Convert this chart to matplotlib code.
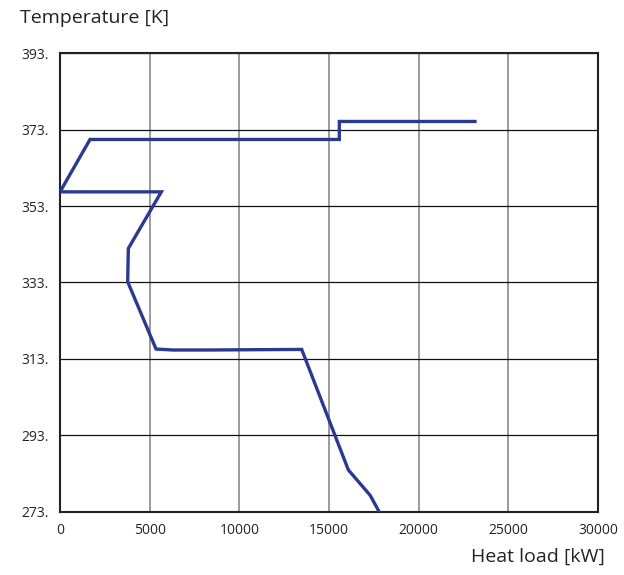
import matplotlib
matplotlib.use("Agg")
import matplotlib.pyplot as plt
import numpy as np

# heat load [kW] vs temperature [K]
heat = [23145, 15577, 15577, 1673, 0, 5650, 3810, 3773, 5354, 6300, 8200,
        13478, 16080, 17290, 17808]
temp = [375.1, 375.1, 370.4, 370.4, 356.7, 356.7, 341.9, 333.2, 315.6,
        315.35, 315.35, 315.5, 284.0, 277.4, 273.0]

xticks = [0, 5000, 10000, 15000, 20000, 25000, 30000]
yticks = [273, 293, 313, 333, 353, 373, 393]

plt.rcParams['font.family'] = ['Open Sans', 'DejaVu Sans']

fig = plt.figure(figsize=(6.24, 5.75), dpi=100)
ax = fig.add_axes([0.0962, 0.1096, 0.862, 0.7982])

ax.plot(heat, temp, color='#2b3990', lw=2.4, solid_joinstyle='miter', zorder=3)

ax.set_xlim(0, 30000)
ax.set_ylim(273, 393)
ax.set_xticks(xticks)
ax.set_yticks(yticks)
ax.set_yticklabels([str(t) + "." for t in yticks])
ax.tick_params(length=0, labelsize=10, colors='#222222')
ax.tick_params(axis='x', pad=8)
ax.tick_params(axis='y', pad=8)

ax.xaxis.grid(True, color='#8a8a8a', lw=1.2)
ax.yaxis.grid(True, color='#111111', lw=0.9)
ax.set_axisbelow(True)
for s in ax.spines.values():
    s.set_color('#222222')
    s.set_linewidth(1.5)

fig.text(20/624, 1 - 18/575, "Temperature [K]", fontsize=14, va='center',
         ha='left', color='#222222')
fig.text(605/624, 1 - 557/575, "Heat load [kW]", fontsize=14, va='center',
         ha='right', color='#222222')

plt.savefig("out.png", dpi=100)
